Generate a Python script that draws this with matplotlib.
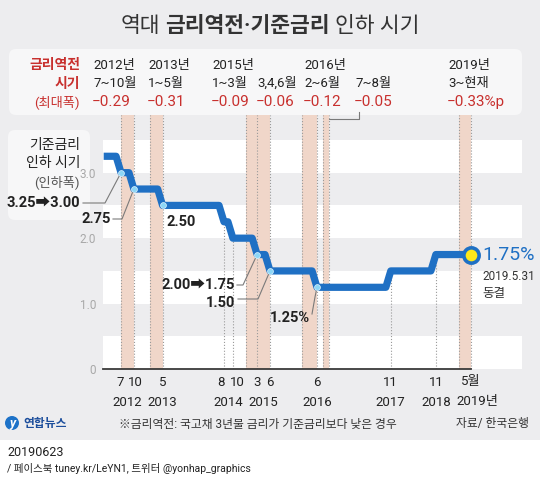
# %%
'''
Base rate cuts vs. yield inversion periods (infographic remake)
'''

import matplotlib.pyplot as plt
from matplotlib.patches import FancyBboxPatch, Rectangle, Circle
from matplotlib.transforms import blended_transform_factory

plt.rcParams['font.family'] = ['Roboto', 'Noto Sans CJK KR', 'DejaVu Sans']

# %%
# data

start_t, start_rate = 2012.18, 3.25
event_t = [2012.53, 2012.79, 2013.37, 2014.61, 2014.79, 2015.28, 2015.54, 2016.49, 2017.98, 2018.89]
event_rate = [3.00, 2.75, 2.50, 2.25, 2.00, 1.75, 1.50, 1.25, 1.50, 1.75]
event_month = ['7', '10', '5', '8', '10', '3', '6', '6', '11', '11']
end_t, end_rate = 2019.60, 1.75
end_month = '5월'
year_labels = ['2012', '2013', '2014', '2015', '2016', '2017', '2018', '2019년']

# rate inversion periods (shaded)
inv_start = [2012.53, 2013.12, 2015.05, 2015.28, 2016.18, 2016.62, 2019.35]
inv_end = [2012.79, 2013.37, 2015.28, 2015.54, 2016.49, 2016.74, 2019.60]
inv_year = ['2012년', '2013년', '2015년', '', '2016년', '', '2019년']
inv_month = ['7~10월', '1~5월', '1~3월', '3,4,6월', '2~6월', '7~8월', '3~현재']
inv_gap = ['−0.29', '−0.31', '−0.09', '−0.06', '−0.12', '−0.05', '−0.33%p']

# cuts that got a label (index into event lists)
cut_idx = [0, 1, 2, 5, 6, 7]
cut_text = ['3.25➡3.00', '2.75', '2.50', '2.00➡1.75', '1.50', '1.25%']

# %%
# style / layout (pixels, top-left origin)

W, H = 540, 479
bg = '#ededef'
panel = '#f7f7f8'
blue = '#1f70c4'
red = '#c8302e'
band_c = '#f0d6c9'
dot_c = '#8dd6f6'
grey_line = '#7a7a7a'

ax_left, ax_right, ax_top, ax_bottom = 103, 522, 115, 369.2

head_x = [93, 148, 212, 257, 304, 355, 448]
head_y = [65, 83.5, 102]
month_dx = [-1, 1, 0, -3, 4, 0, 0, 0, 0, 0]   # px nudges so close labels don't touch

# label anchor (x, y, ha) and the bend point of the leader line
cut_pos = [(80, 203, 'right'), (111, 219, 'right'), (181, 222, 'center'),
           (235, 285, 'right'), (235, 303, 'right'), (290, 318, 'center')]
cut_leader = [[(83, 203), (105, 203)], [(113, 219), (122, 219)], None,
              [(237, 285), (243, 285)], [(238, 299), (258, 299)], [(312, 314), (315, 297)]]

# %%
# plot

fig = plt.figure(figsize=(W / 100, H / 100), dpi=100)
fig.patch.set_facecolor(bg)

base = fig.add_axes([0, 0, 1, 1])
base.set_xlim(0, W)
base.set_ylim(H, 0)
base.axis('off')
pxT = base.transData

base.add_patch(FancyBboxPatch((9, 49), 513, 66, boxstyle='round,pad=0,rounding_size=7', fc=panel, ec='none'))
base.add_patch(FancyBboxPatch((8, 130), 82, 90, boxstyle='round,pad=0,rounding_size=7', fc=panel, ec='none'))
base.add_patch(Rectangle((0, 440), W, H - 440, fc='white', ec='none'))

ax = fig.add_axes([ax_left / W, 1 - ax_bottom / H, (ax_right - ax_left) / W, (ax_bottom - ax_top) / H])
ax.set_facecolor('none')
ax.set_xlim(2012.166, 2020.631)
ax.set_ylim(0, 3.88)
for s in ax.spines.values():
    s.set_visible(False)
ax.set_xticks([])
ax.set_yticks([0, 1, 2, 3])
ax.set_yticklabels(['0', '1.0', '2.0', '3.0'])
ax.tick_params(axis='y', length=0, pad=5, labelcolor='#a8a8a8', labelsize=8.5)

# stripes
for lo in [0, 1, 2, 3]:
    ax.axhspan(lo, lo + 0.5, color='white', lw=0, zorder=0)

# inversion bands
edges = []
for s, e in zip(inv_start, inv_end):
    ax.axvspan(s, e, color=band_c, lw=0, zorder=1)
    edges += [s, e]
for x in sorted(set(edges)):
    ax.axvline(x, ls=':', color='#9a9a9a', lw=0.8, zorder=2)
for t, r in zip(event_t, event_rate):
    if min(abs(t - x) for x in edges) > 0.02:
        ax.plot([t, t], [0, r], ls=':', color='#9a9a9a', lw=0.8, zorder=2)

# step line with slanted steps
xs, ys = [start_t], [start_rate]
prev = start_rate
for t, r in zip(event_t, event_rate):
    xs += [t - 0.1, t]
    ys += [prev, r]
    prev = r
xs.append(end_t)
ys.append(end_rate)
ax.plot(xs, ys, color=blue, lw=5.2, solid_capstyle='butt', zorder=4)

# x axis
ax.plot([ax.get_xlim()[0], end_t], [0, 0], color='#3a3a3a', lw=1.3, clip_on=False, zorder=3)

# cut dots + labels
to_px = lambda t, r: pxT.inverted().transform(ax.transData.transform((t, r)))
for i, txt, (lx, ly, ha), lead in zip(cut_idx, cut_text, cut_pos, cut_leader):
    ax.plot(event_t[i], event_rate[i], 'o', ms=4.2, mfc=dot_c, mec='#dff5ff', mew=0.5, zorder=6)
    ax.text(lx, ly, txt, transform=pxT, ha=ha, va='center', fontsize=10.5,
            fontweight='bold', color='#222222', zorder=7)
    if lead:
        dx, dy = to_px(event_t[i], event_rate[i])
        px_ = [p[0] for p in lead] + [dx]
        py_ = [p[1] for p in lead] + [dy]
        ax.plot(px_, py_, color=grey_line, lw=0.8, transform=pxT, clip_on=False, zorder=5)

# end point
ax.plot(end_t, end_rate, 'o', ms=11, mfc='#ffe81a', mec=blue, mew=2.6, clip_on=False, zorder=6)
ex, ey = to_px(end_t, end_rate)
ax.text(ex + 11, ey, '1.75%', transform=pxT, fontsize=14, color=blue, va='center', ha='left')
ax.text(ex + 11, ey + 22, '2019.5.31', transform=pxT, fontsize=8.5, color='#333333', va='center', ha='left')
ax.text(ex + 11, ey + 39, '동결', transform=pxT, fontsize=9, color='#333333', va='center', ha='left')

# month / year tick labels
xT = blended_transform_factory(ax.transData, pxT)
for t, m, d in zip(event_t, event_month, month_dx):
    ax.annotate(m, (t, 382), xycoords=xT, xytext=(d * 0.72, 0), textcoords='offset points',
                ha='center', va='center', fontsize=9.5, color='#222222')
ax.text(end_t, 382, end_month, transform=xT, ha='center', va='center', fontsize=9.5, color='#222222')
year_pos = {}
for t in event_t:
    year_pos.setdefault(int(t), []).append(t)
year_pos[int(end_t)] = [end_t]
for (y, ts), lab in zip(sorted(year_pos.items()), year_labels):
    off = 6 if lab.endswith('년') else 0
    ax.annotate(lab, (sum(ts) / len(ts), 402), xycoords=xT, xytext=(off * 0.72, 0),
                textcoords='offset points', ha='center', va='center', fontsize=9.5, color='#222222')

# header: inversion periods
for x, a, b, c in zip(head_x, inv_year, inv_month, inv_gap):
    base.text(x, head_y[0], a, ha='left', va='center', fontsize=9.5, color='#222222')
    base.text(x, head_y[1], b, ha='left', va='center', fontsize=9.5, color='#222222')
    base.text(x - 1, head_y[2], c, ha='left', va='center', fontsize=11, color=red)
base.text(80, head_y[0], '금리역전', ha='right', va='center', fontsize=10, fontweight='bold', color=red)
base.text(80, head_y[1], '시기', ha='right', va='center', fontsize=10, fontweight='bold', color=red)
base.text(80, head_y[2], '(최대폭)', ha='right', va='center', fontsize=9.5, color=red)

# connector for 7~8월
bx = to_px(inv_end[5], 0)[0]
base.plot([bx, 359, 359], [119, 119, 112], color=grey_line, lw=0.8)

# left legend box
base.text(80, 145, '기준금리', ha='right', va='center', fontsize=10, color='#222222')
base.text(80, 163, '인하 시기', ha='right', va='center', fontsize=10, color='#222222')
base.text(80, 182, '(인하폭)', ha='right', va='center', fontsize=9.5, color='#555555')

# title with mixed weights
renderer = fig.canvas.get_renderer()
parts = [('역대', 'normal'), ('금리역전·기준금리', 'bold'), ('인하 시기', 'normal')]
objs = [base.text(0, 26, s, fontsize=15.5, fontweight=w, color='#333333', ha='left', va='center')
        for s, w in parts]
widths = [o.get_window_extent(renderer).width for o in objs]
gap = 5
x = 270 - (sum(widths) + gap * (len(objs) - 1)) / 2
for o, w in zip(objs, widths):
    o.set_x(x)
    x += w + gap

# footer
base.add_patch(Circle((12, 423), 7, fc='#1d72c8', ec='none'))
base.text(12, 423.5, 'y', ha='center', va='center', fontsize=9, color='white', fontweight='bold', style='italic')
base.text(23, 423, '연합뉴스', ha='left', va='center', fontsize=8.5, fontweight='bold', color='#1c4e9c')
base.text(119, 424, '※금리역전: 국고채 3년물 금리가 기준금리보다 낮은 경우', ha='left', va='center',
          fontsize=8.5, color='#333333')
base.text(529, 424, '자료/ 한국은행', ha='right', va='center', fontsize=8.5, color='#333333')
base.text(7, 452, '20190623', ha='left', va='center', fontsize=9, color='#222222')
base.text(7, 468, '/ 페이스북 tuney.kr/LeYN1, 트위터 @yonhap_graphics', ha='left', va='center',
          fontsize=7.5, color='#222222')

fig.savefig('out.png', dpi=100, facecolor=fig.get_facecolor())
